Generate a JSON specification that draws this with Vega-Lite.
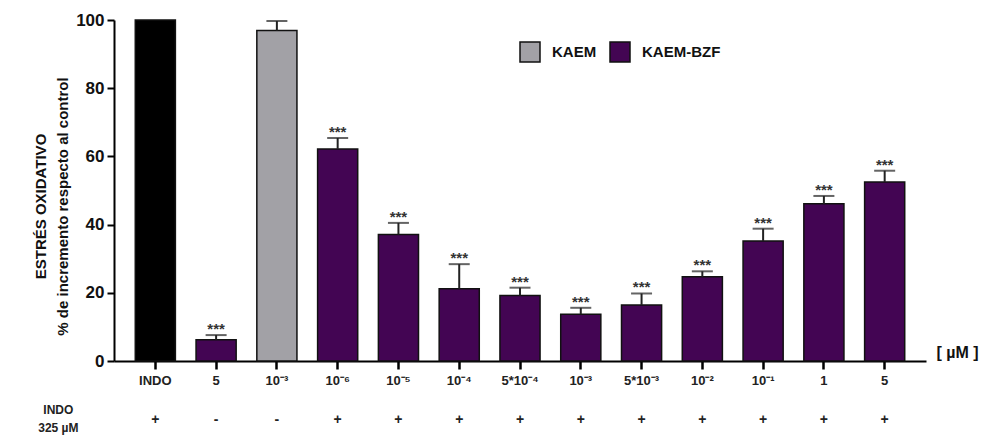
{
  "$schema": "https://vega.github.io/schema/vega-lite/v6.json",
  "width": 812,
  "height": 341,
  "autosize": {"type": "none"},
  "padding": {"left": 114, "top": 20, "right": 61, "bottom": 75},
  "background": "white",
  "config": {"view": {"stroke": null}, "font": "Liberation Sans"},
  "data": {
    "values": [
      {"cat": "01|INDO", "group": "INDO", "value": 100, "hi": null, "sig": "", "indo": "+"},
      {"cat": "02|5", "group": "KAEM-BZF", "value": 6.2, "hi": 7.6, "sig": "***", "indo": "-"},
      {"cat": "03|10⁻³", "group": "KAEM", "value": 96.9, "hi": 99.7, "sig": "", "indo": "-"},
      {"cat": "04|10⁻⁶", "group": "KAEM-BZF", "value": 62.2, "hi": 65.4, "sig": "***", "indo": "+"},
      {"cat": "05|10⁻⁵", "group": "KAEM-BZF", "value": 37.1, "hi": 40.5, "sig": "***", "indo": "+"},
      {"cat": "06|10⁻⁴", "group": "KAEM-BZF", "value": 21.2, "hi": 28.4, "sig": "***", "indo": "+"},
      {"cat": "07|5*10⁻⁴", "group": "KAEM-BZF", "value": 19.2, "hi": 21.5, "sig": "***", "indo": "+"},
      {"cat": "08|10⁻³", "group": "KAEM-BZF", "value": 13.7, "hi": 15.6, "sig": "***", "indo": "+"},
      {"cat": "09|5*10⁻³", "group": "KAEM-BZF", "value": 16.4, "hi": 19.8, "sig": "***", "indo": "+"},
      {"cat": "10|10⁻²", "group": "KAEM-BZF", "value": 24.7, "hi": 26.3, "sig": "***", "indo": "+"},
      {"cat": "11|10⁻¹", "group": "KAEM-BZF", "value": 35.2, "hi": 38.8, "sig": "***", "indo": "+"},
      {"cat": "12|1", "group": "KAEM-BZF", "value": 46.1, "hi": 48.4, "sig": "***", "indo": "+"},
      {"cat": "13|5", "group": "KAEM-BZF", "value": 52.5, "hi": 55.8, "sig": "***", "indo": "+"}
    ]
  },
  "encoding": {
    "x": {
      "field": "cat",
      "type": "nominal",
      "sort": null,
      "scale": {"paddingInner": 0.34, "paddingOuter": 0.35},
      "axis": {
        "labelExpr": "split(datum.value, '|')[1]",
        "labelAngle": 0,
        "labelFontSize": 13,
        "labelFontWeight": "bold",
        "labelColor": "#222222",
        "labelPadding": 5,
        "domainColor": "#000000",
        "domainWidth": 2,
        "tickColor": "#000000",
        "tickWidth": 2.5,
        "tickSize": 8,
        "title": "[ µM ]",
        "titleFontSize": 16,
        "titleFontWeight": "bold",
        "titleColor": "#111111",
        "titleX": 822,
        "titleY": -9,
        "titleAlign": "left",
        "titleBaseline": "middle"
      }
    }
  },
  "layer": [
    {
      "mark": {"type": "bar", "stroke": "#111111", "strokeWidth": 1.5},
      "encoding": {
        "y": {
          "field": "value",
          "type": "quantitative",
          "scale": {"domain": [0, 100], "nice": false},
          "axis": {
            "values": [0, 20, 40, 60, 80, 100],
            "grid": false,
            "labelFontSize": 17,
            "labelFontWeight": "bold",
            "labelColor": "#111111",
            "labelPadding": 3,
            "domainColor": "#000000",
            "domainWidth": 2,
            "tickColor": "#000000",
            "tickWidth": 2,
            "tickSize": 7,
            "title": ["ESTRÉS OXIDATIVO", "% de incremento respecto al control"],
            "titleFontSize": 15,
            "titleFontWeight": "bold",
            "titleColor": "#111111",
            "titleLineHeight": 22,
            "titlePadding": 5,
            "titleY": 186
          }
        },
        "color": {
          "field": "group",
          "type": "nominal",
          "scale": {"domain": ["INDO", "KAEM", "KAEM-BZF"], "range": ["#000000", "#a2a1a6", "#430553"]},
          "legend": {
            "values": ["KAEM", "KAEM-BZF"],
            "title": null,
            "orient": "none",
            "legendX": 405,
            "legendY": 21,
            "direction": "horizontal",
            "symbolType": "square",
            "symbolSize": 400,
            "symbolStrokeColor": "#111111",
            "symbolStrokeWidth": 1.5,
            "symbolOpacity": 1,
            "labelFontSize": 15,
            "labelFontWeight": "bold",
            "labelColor": "#111111",
            "labelOffset": 11,
            "columnPadding": 10
          }
        }
      }
    },
    {
      "transform": [{"filter": "datum.hi != null"}],
      "mark": {"type": "rule", "color": "#222222", "strokeWidth": 2},
      "encoding": {"y": {"field": "value", "type": "quantitative"}, "y2": {"field": "hi"}}
    },
    {
      "transform": [{"filter": "datum.hi != null"}],
      "mark": {"type": "tick", "color": "#222222", "thickness": 2, "size": 21, "orient": "horizontal"},
      "encoding": {"y": {"field": "hi", "type": "quantitative"}}
    },
    {
      "transform": [{"filter": "datum.hi != null"}],
      "mark": {"type": "text", "fontSize": 15, "fontWeight": "bold", "color": "#333333", "dy": -6, "baseline": "middle"},
      "encoding": {"y": {"field": "hi", "type": "quantitative"}, "text": {"field": "sig"}}
    },
    {
      "mark": {"type": "text", "fontSize": 14, "fontWeight": "bold", "color": "#222222", "dy": 59, "baseline": "middle"},
      "encoding": {"y": {"datum": 0}, "text": {"field": "indo"}}
    },
    {
      "data": {"values": [{"t": "INDO"}]},
      "mark": {"type": "text", "fontSize": 12, "fontWeight": "bold", "color": "#222222", "dx": -97, "dy": 49, "baseline": "middle"},
      "encoding": {"x": {"datum": "01|INDO"}, "y": {"datum": 0}, "text": {"field": "t"}}
    },
    {
      "data": {"values": [{"t": "325 µM"}]},
      "mark": {"type": "text", "fontSize": 12, "fontWeight": "bold", "color": "#222222", "dx": -97, "dy": 67, "baseline": "middle"},
      "encoding": {"x": {"datum": "01|INDO"}, "y": {"datum": 0}, "text": {"field": "t"}}
    }
  ]
}
